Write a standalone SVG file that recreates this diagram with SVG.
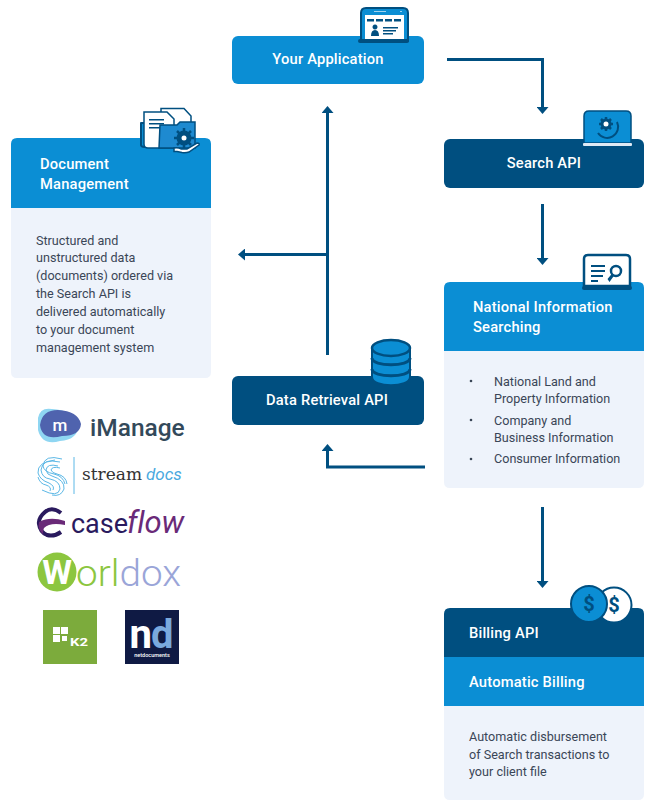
<svg xmlns="http://www.w3.org/2000/svg" width="654" height="810" viewBox="0 0 654 810">
<style>
text{font-family:Roboto,"Liberation Sans",sans-serif}
.t{fill:#fff;font-size:14.7px;font-weight:500;letter-spacing:.2px}
.m{text-anchor:middle}
.b{fill:#3a4657;font-size:12.6px}
.blue{fill:#0b8ed4}.dark{fill:#004f80}.pale{fill:#eef3fb}
.c{fill:none;stroke:#004f80;stroke-width:3}
.i{stroke:#004f80;stroke-width:2;stroke-linejoin:round}
.l{fill:#004f80}
</style>
<defs>
<marker id="a" markerUnits="userSpaceOnUse" markerWidth="8" markerHeight="12" refX="3" refY="6" orient="auto"><path d="M0 0L7 6L0 12Z" fill="#004f80"/></marker>
</defs>
<rect width="654" height="810" fill="#fff"/>
<g id="connectors">
<path class="c" d="M447 59.500H542.500V110" marker-end="url(#a)"/>
<path class="c" d="M542.500 204V261" marker-end="url(#a)"/>
<path class="c" d="M542.500 507V584" marker-end="url(#a)"/>
<path class="c" d="M425 467H327.500V448" marker-end="url(#a)"/>
<path class="c" d="M327.500 355V110" marker-end="url(#a)"/>
<path class="c" d="M327.500 254.500H242" marker-end="url(#a)"/>
</g>
<g id="your-application">
<rect class="blue" x="232" y="36" width="192" height="48" rx="6"/>
<text class="t m" x="328" y="64">Your Application</text>
<path class="blue i" d="M361 41V13Q361 8 366 8H403Q408 8 408 13V41Z"/>
<rect x="365" y="15" width="39" height="25" fill="#fff"/>
<rect x="358" y="39" width="51" height="4" rx="2" class="l"/>
<path class="l" d="M367 19h7v2.500h-7zM376 19h7v2.500h-7zM385 19h7v2.500h-7zM394 19h7v2.500h-7zM375 29.500a2.500 2.500 0 1 1 .01 0M371 36q0-6 4-6t4 6zM383 27h15v1.500h-15zM383 30h13v1.500h-13zM383 33h10v1.500h-10z"/>
<path d="M374 11h12v1h-12zM400 11h2v1h-2z" fill="#9fd3f0"/>
</g>
<g id="search-api">
<rect class="dark" x="444" y="139" width="200" height="49" rx="6"/>
<text class="t m" x="544" y="168">Search API</text>
<path class="blue" d="M584 143V116Q584 111 589 111H626Q631 111 631 116V143Z" stroke="#004f80" stroke-width="1.500"/>
<rect x="583" y="143" width="49" height="3" rx="1" fill="#dfeaf5"/>
<path d="M606 117v14M599 124h14M601 119l10 10M611 119l-10 10" stroke="#004f80" stroke-width="2.500"/>
<circle cx="606" cy="124" r="4" fill="#fff" stroke="#004f80" stroke-width="3"/>
<path d="M617 122a11 11 0 0 1-19 11" fill="none" stroke="#004f80" stroke-width="2"/>
</g>
<g id="document-management">
<path class="blue" d="M11 208V144Q11 138 17 138H205Q211 138 211 144V208Z"/>
<path class="pale" d="M11 208H211V372Q211 378 205 378H17Q11 378 11 372Z"/>
<text class="t" x="40" y="169">Document</text>
<text class="t" x="40" y="189">Management</text>
<g class="b">
<text x="36" y="244.500">Structured and</text>
<text x="36" y="262">unstructured data</text>
<text x="36" y="279.500">(documents) ordered via</text>
<text x="36" y="297.500">the Search API is</text>
<text x="36" y="315.500">delivered automatically</text>
<text x="36" y="333.500">to your document</text>
<text x="36" y="351.500">management system</text>
</g>
<path d="M161 115V108.500H184L191 116V140H170Z" fill="#fff" stroke="#004f80" stroke-width="1.500"/>
<path class="blue i" d="M141 145V123H147V147H145Q141 147 141 145Z"/>
<path d="M144 112H167L174 119V148H148Q144 148 144 144Z" fill="#fff" stroke="#004f80" stroke-width="1.500"/>
<path d="M149 119h15v1.500h-15zM149 123h15v1.500h-15zM149 127h11v1.500h-11z" class="l"/>
<path d="M159 148L160 125H177L180 122H195V148Z" fill="#1e8ad0" stroke="#004f80" stroke-width="1.500"/>
<circle cx="184" cy="138" r="7.500" class="l"/>
<path d="M184 128v20M174 138h20M177 131l14 14M191 131l-14 14" stroke="#004f80" stroke-width="2.500"/>
<circle cx="184" cy="138" r="2.500" fill="#fff"/>
<path d="M174 148q4-1 7 1h6l10-6q3 0 2 2l-10 7q-3 1-7 .5l-5-1h-3z" fill="#fff" stroke="#004f80" stroke-width="1.500"/>
</g>
<g id="data-retrieval-api">
<rect class="dark" x="232" y="376" width="192" height="49" rx="6"/>
<text class="t m" x="327" y="405">Data Retrieval API</text>
<path class="blue" d="M372 348V377C372 388 410 388 410 377V348Z" stroke="#004f80" stroke-width="2"/>
<ellipse cx="391" cy="348" rx="19" ry="8" class="blue" stroke="#004f80" stroke-width="2.500"/>
<path d="M372 358c0 9 38 9 38 0M372 369c0 9 38 9 38 0" fill="none" stroke="#004f80" stroke-width="3"/>
</g>
<g id="national-information-searching">
<path class="blue" d="M444 351V288Q444 282 450 282H638Q644 282 644 288V351Z"/>
<path class="pale" d="M444 351H644V482Q644 488 638 488H450Q444 488 444 482Z"/>
<text class="t" x="473" y="312">National Information</text>
<text class="t" x="473" y="332">Searching</text>
<g class="b">
<circle cx="471" cy="381" r="1.300" fill="#3a4657"/>
<text x="494" y="386">National Land and</text>
<text x="494" y="403">Property Information</text>
<circle cx="471" cy="420" r="1.300" fill="#3a4657"/>
<text x="494" y="425">Company and</text>
<text x="494" y="442">Business Information</text>
<circle cx="471" cy="459" r="1.300" fill="#3a4657"/>
<text x="494" y="463">Consumer Information</text>
</g>
<path d="M584 286V259Q584 255 588 255H626Q630 255 630 259V286Z" fill="#fff" stroke="#004f80" stroke-width="2.500"/>
<rect x="582" y="286" width="50" height="4" rx="2" class="l"/>
<path class="l" d="M591 265h14v2h-14zM591 270h14v2h-14zM591 275h12v2h-12zM591 280h7v2h-7zM607.500 279l5-6 2 2-5 7z"/>
<circle cx="616" cy="271" r="5" fill="#fff" stroke="#004f80" stroke-width="2.500"/>
</g>
<g id="billing">
<path class="dark" d="M444 657V614Q444 608 450 608H638Q644 608 644 614V657Z"/>
<rect class="blue" x="444" y="657" width="200" height="49"/>
<path class="pale" d="M444 706H644V794Q644 800 638 800H450Q444 800 444 794Z"/>
<text class="t" x="469" y="638">Billing API</text>
<text class="t" x="469" y="687">Automatic Billing</text>
<g class="b">
<text x="469" y="741">Automatic disbursement</text>
<text x="469" y="759">of Search transactions to</text>
<text x="469" y="776">your client file</text>
</g>
<circle cx="614" cy="605" r="17.500" fill="#fff" stroke="#004f80" stroke-width="2"/>
<circle cx="589" cy="604" r="18" class="blue" stroke="#004f80" stroke-width="2"/>
<text x="589" y="611" class="m" fill="#004f80" font-size="20" font-weight="700">$</text>
<text x="614" y="612" class="m" fill="#004f80" font-size="20" font-weight="700">$</text>
</g>
<g id="imanage">
<path d="M38 418Q40 407 52 409Q72 410 79 424Q78 440 60 441Q42 446 38 430Z" fill="#8fd6f2"/>
<path d="M40 425Q42 410 58 410Q78 411 81 424Q80 436 62 436Q42 441 40 425Z" fill="#4f63ae"/>
<text x="60" y="431" class="m" fill="#fff" font-size="17" font-weight="500">m</text>
<text x="90" y="436" fill="#33495a" font-size="24.500" font-weight="500">iManage</text>
</g>
<g id="streamdocs">
<g fill="none" stroke="#5cb8e6" stroke-width="1">
<path d="M60 462Q42 458 41 470Q42 478 50 479Q60 481 60 489Q58 498 42 490"/>
<path d="M58 466Q47 463 46 470Q47 475 52 476Q65 480 64 489Q61 497 52 495"/>
<path d="M55 460Q37 462 38 473Q40 480 49 483Q55 486 53 490"/>
<path d="M62 459Q44 454 43 466Q44 472 54 474Q63 476 65 484"/>
<path d="M60 468Q52 466 51 470Q52 473 57 474Q66 476 67 484"/>
<path d="M38 477Q40 484 46 485Q52 487 50 491"/>
</g>
<path d="M74 457V494" stroke="#5cb8e6" stroke-width="1"/>
<text x="82" y="480" fill="#333" style="font-family:'DejaVu Serif',serif" font-size="16" textLength="60" lengthAdjust="spacingAndGlyphs">stream</text>
<text x="146" y="480" fill="#4aa9e0" font-size="17" font-style="italic">docs</text>
</g>
<g id="caseflow">
<path d="M61 513Q52 506 45 512Q38 518 39 524Q40 532 47 535Q54 537 61 532" fill="none" stroke="#2a1a5e" stroke-width="4"/>
<path d="M39 522Q50 516 65 521L65 525Q50 522 44 528Q42 533 44 535Q37 530 39 522Z" fill="#6a2a78"/>
<text x="71" y="533" fill="#2a1a5e" font-size="27" font-weight="400" letter-spacing="-1" textLength="56">case</text>
<text x="127" y="533" fill="#6a2a78" font-size="31" font-style="italic" letter-spacing="-1" textLength="56">flow</text>
</g>
<g id="worldox">
<circle cx="57" cy="572" r="19.500" fill="#8cc63f"/>
<text x="57" y="584" class="m" fill="#fff" font-size="34" font-weight="700">W</text>
<text x="76" y="586" font-size="37" font-weight="300" textLength="105" lengthAdjust="spacingAndGlyphs"><tspan fill="#8cc63f">orl</tspan><tspan fill="#9aa5d8">dox</tspan></text>
</g>
<g id="k2">
<rect x="43" y="610" width="54" height="54" fill="#7cab3c"/>
<path d="M53 627h7v7h-7zM61 627h7v7h-7zM53 635h7v7h-7zM62 636h5v5h-5z" fill="#fff"/>
<text x="70" y="646" fill="#fff" font-size="11.500" font-weight="700" textLength="18" lengthAdjust="spacingAndGlyphs">K2</text>
</g>
<g id="netdocuments">
<rect x="125" y="610" width="54" height="54" fill="#0f1a44"/>
<text x="151" y="648" class="m" font-size="40" font-weight="700" letter-spacing="-1"><tspan fill="#fff">n</tspan><tspan fill="#7aa9de">d</tspan></text>
<text x="152" y="656.500" class="m" fill="#fff" font-size="5.500" font-weight="500">netdocuments</text>
</g>
</svg>
